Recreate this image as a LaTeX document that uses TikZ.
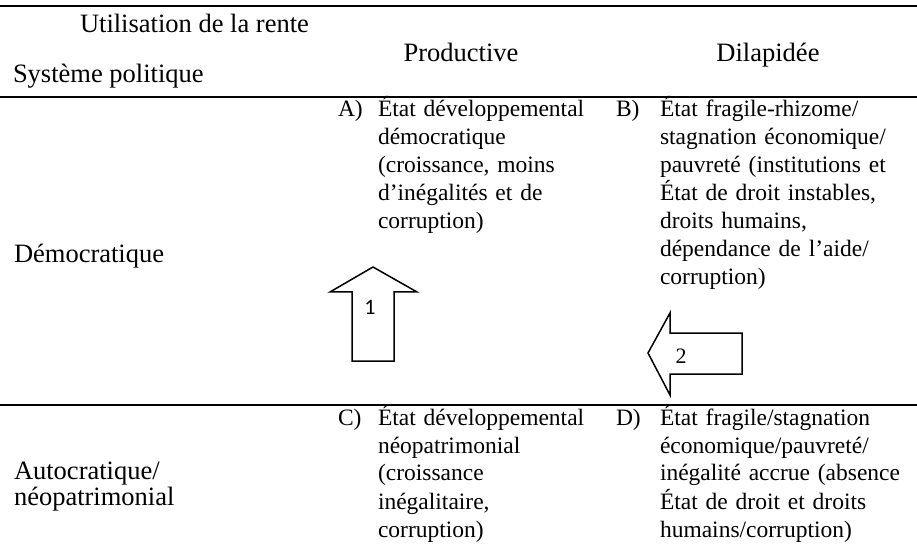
\documentclass[tikz,border=0pt]{standalone}
\usepackage{fontspec}
\setmainfont{Liberation Serif}
\newfontfamily\arrowsans{Carlito}
\usepackage{tikz}
\newcommand{\bodysize}{\fontsize{11.75}{14}\selectfont}
\newcommand{\headsize}{\fontsize{13.25}{13}\selectfont}
\newcommand{\numsize}{\fontsize{11}{12}\selectfont}
\tikzstyle{cell}=[anchor=base west, inner sep=0, outer sep=0, align=left, font=\bodysize, text width=130pt]
\tikzstyle{tag}=[anchor=base west, inner sep=0, outer sep=0, font=\bodysize]
\tikzstyle{head}=[inner sep=0, outer sep=0, font=\headsize]
\tikzstyle{rowhead}=[head, anchor=base west, align=left]
\tikzstyle{rule}=[line width=1pt]
\tikzstyle{blockarrow}=[line width=0.75pt, line join=miter]
\tikzstyle{tablepic}=[x=0.5pt, y=-0.5pt,
                      % all positions are given in pixels of the page
                      every node/.style={text depth=0pt}]

\begin{document}
\begin{tikzpicture}[tablepic]
    \useasboundingbox (0, 0) rectangle (917, 556);
    % rules
    \coordinate (topL) at (0, 6.5);
    \coordinate (topR) at (917, 6.5);
    \coordinate (midL) at (0, 97);
    \coordinate (midR) at (917, 97);
    \coordinate (lowL) at (0, 405);
    \coordinate (lowR) at (917, 405);
    \draw[rule] (topL) -- (topR);
    \draw[rule] (midL) -- (midR);
    \draw[rule] (lowL) -- (lowR);
    % header
    \node[head, anchor=base west] (usage) at (80, 33) {Utilisation de la rente};
    \node[head, anchor=base west] (system) at (13, 83) {Système politique};
    \node[head, anchor=base] (productive) at (461, 62) {Productive};
    \node[head, anchor=base] (wasted) at (768, 62) {Dilapidée};
    % first row
    \node[rowhead] (democ) at (14, 263) {Démocratique};
    \node[tag] (Alabel) at (338, 117) {A)};
    \node[cell] (Atext) at (378, 117)
        {État développemental\\démocratique\\(croissance, moins\\d’inégalités et de\\corruption)};
    \node[tag] (Blabel) at (616, 117) {B)};
    \node[cell] (Btext) at (660, 117)
        {État fragile-rhizome/\\stagnation économique/\\pauvreté (institutions et\\État de droit instables,\\droits humains,\\dépendance de l’aide/\\corruption)};
    % second row
    \node[rowhead] (autoc) at (14, 505) {Autocratique/\\néopatrimonial};
    \node[tag] (Clabel) at (338, 425) {C)};
    \node[cell] (Ctext) at (378, 425)
        {État développemental\\néopatrimonial\\(croissance\\inégalitaire,\\corruption)};
    \node[tag] (Dlabel) at (616, 425) {D)};
    \node[cell] (Dtext) at (660, 425)
        {État fragile/stagnation\\économique/pauvreté/\\inégalité accrue (absence\\État de droit et droits\\humains/corruption)};
    % arrows
    \draw[blockarrow] (352, 361) -- (352, 292) -- (330, 292) -- (373, 267)
        -- (417, 292) -- (394, 292) -- (394, 361) -- cycle;
    \node[inner sep=0, font=\arrowsans\numsize] (one) at (370, 307) {1};
    \draw[blockarrow] (742, 333) -- (670, 333) -- (670, 313) -- (648, 353)
        -- (670, 395) -- (670, 374) -- (742, 374) -- cycle;
    \node[inner sep=0, font=\numsize] (two) at (681, 356) {2};
\end{tikzpicture}
\end{document}
